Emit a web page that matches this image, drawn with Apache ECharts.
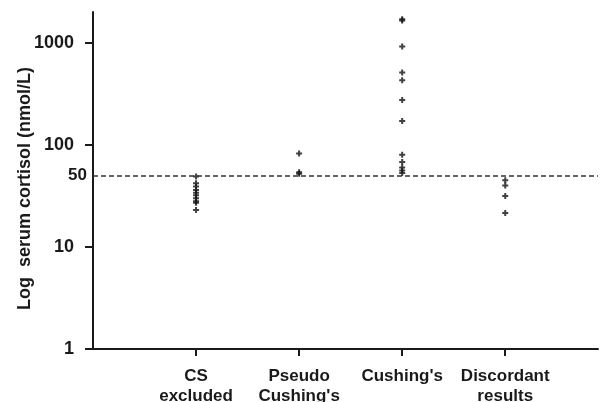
<!DOCTYPE html>
<html>
<head>
<meta charset="utf-8">
<script src="https://cdn.jsdelivr.net/npm/echarts@6/dist/echarts.min.js"></script>
<style>
  html, body { margin: 0; padding: 0; background: #fff; }
  #chart { width: 601px; height: 402px; }
</style>
</head>
<body>
<div id="chart"></div>
<script>
// groups along the x axis
const categories = ['CS\nexcluded', 'Pseudo\nCushing\'s', 'Cushing\'s', 'Discordant\nresults']

// serum cortisol (nmol/L), one list per group
const csExcluded = [49, 42, 39, 36, 34, 32, 30, 28, 27, 23]
const pseudoCushings = [82, 54, 52]
const cushings = [1700, 1650, 920, 510, 430, 275, 171, 80, 68, 60, 56, 53]
const discordant = [45, 40, 31.5, 21.5]

const groups = [csExcluded, pseudoCushings, cushings, discordant]
const yTicks = [1, 10, 100, 1000]
const cutoff = 50

const font = 'Liberation Sans, Arial, Helvetica, sans-serif'
const ink = '#1a1a1a'

let points = []
groups.forEach((vals, i) => {
  vals.forEach(v => points.push([i + 1, v]))
})

let chart = echarts.init(document.getElementById('chart'))

chart.setOption({
  animation: false,
  backgroundColor: '#fff',
  grid: {left: 93, right: 3, top: 12, bottom: 53, outerBoundsMode: 'none'},
  xAxis: {
    type: 'value',
    min: 0,
    max: 4.9,
    splitLine: {show: false},
    axisLine: {lineStyle: {color: ink, width: 2}},
    axisTick: {
      customValues: [1, 2, 3, 4],
      length: 7,
      lineStyle: {color: ink, width: 2}
    },
    axisLabel: {
      customValues: [1, 2, 3, 4],
      formatter: v => categories[v - 1] || '',
      margin: 17,
      color: ink,
      fontFamily: font,
      fontWeight: 'bold',
      fontSize: 17,
      lineHeight: 20
    }
  },
  yAxis: {
    type: 'log',
    logBase: 10,
    min: 1,
    max: 2000,
    name: 'Log  serum cortisol (nmol/L)',
    nameLocation: 'middle',
    nameGap: 59,
    nameMoveOverlap: false,
    nameTextStyle: {
      color: ink, fontFamily: font, fontWeight: 'bold', fontSize: 18,
      padding: [0, 16, 0, 0]
    },
    splitLine: {show: false},
    axisLine: {lineStyle: {color: ink, width: 2}},
    axisTick: {
      customValues: yTicks,
      length: 8,
      lineStyle: {color: ink, width: 2}
    },
    axisLabel: {
      customValues: yTicks,
      formatter: v => String(v),
      margin: 19,
      color: ink,
      fontFamily: font,
      fontWeight: 'bold',
      fontSize: 18
    }
  },
  series: [{
    type: 'scatter',
    data: points,
    symbol: 'path://M2,0H4V2H6V4H4V6H2V4H0V2H2Z',
    symbolSize: 6,
    itemStyle: {color: '#111'},
    markLine: {
      silent: true,
      symbol: 'none',
      lineStyle: {color: '#333', type: [5, 3], width: 1.5},
      label: {
        position: 'start',
        formatter: String(cutoff),
        distance: 6,
        color: ink,
        fontFamily: font,
        fontWeight: 'bold',
        fontSize: 17
      },
      data: [{yAxis: cutoff}]
    }
  }]
})
</script>
</body>
</html>
